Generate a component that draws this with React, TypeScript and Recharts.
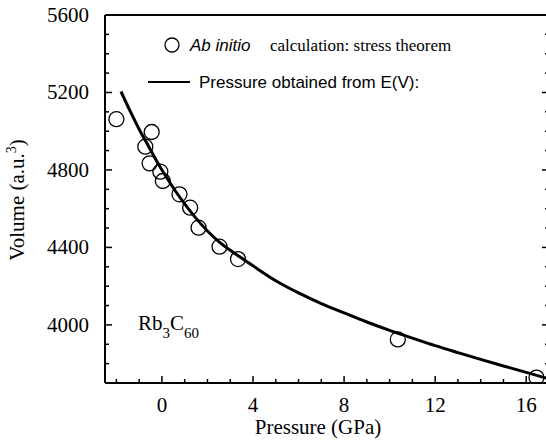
import { ComposedChart, Line, Scatter, XAxis, YAxis } from "recharts";

// solid curve: pressure (GPa) / volume (a.u.^3)
const curveP = [-1.8, -1.4, -1.0, -0.6, -0.2, 0.2, 0.6, 1.0, 1.5, 2.0, 2.5, 3.0, 3.5, 4.0, 5.0, 6.0, 7.0, 8.0, 9.0, 10.0, 11.0, 12.0, 13.0, 14.0, 15.0, 16.0, 16.9];
const curveV = [5205, 5105, 5010, 4925, 4840, 4762, 4690, 4625, 4550, 4485, 4430, 4385, 4345, 4305, 4228, 4165, 4110, 4062, 4015, 3972, 3932, 3893, 3857, 3822, 3788, 3755, 3725];

// open circles: ab initio stress theorem
const calcP = [-2.0, -0.45, -0.73, -0.54, -0.07, 0.04, 0.77, 1.24, 1.61, 2.53, 3.34, 10.36, 16.45];
const calcV = [5062, 4996, 4920, 4834, 4791, 4743, 4674, 4605, 4502, 4404, 4340, 3925, 3728];

const xTicks = [-2, -1, 0, 1, 2, 3, 4, 5, 6, 7, 8, 9, 10, 11, 12, 13, 14, 15, 16, 17];
const xMajor = [0, 4, 8, 12, 16];
const yTicks = [3700, 3800, 3900, 4000, 4100, 4200, 4300, 4400, 4500, 4600, 4700, 4800, 4900, 5000, 5100, 5200, 5300, 5400, 5500, 5600];
const yMajor = [4000, 4400, 4800, 5200, 5600];

const curve = curveP.map((p, i) => ({ p, v: curveV[i] }));
const calc = calcP.map((p, i) => ({ p, v: calcV[i] }));

const SERIF = "'Liberation Serif', 'Times New Roman', serif";
const SANS = "'Liberation Sans', Arial, sans-serif";

const BottomTick = ({ x, y, payload }: any) => {
  const major = xMajor.includes(payload.value);
  return (
    <g>
      <line x1={x} x2={x} y1={y} y2={y - (major ? 7 : 4)} stroke="#000" strokeWidth={1.5} />
      {major && (
        <text x={x} y={y + 29} textAnchor="middle" fontFamily={SERIF} fontSize={21} fill="#000">
          {payload.value}
        </text>
      )}
    </g>
  );
};

const TopTick = ({ x, y, payload }: any) => {
  const major = xMajor.includes(payload.value);
  return <line x1={x} x2={x} y1={y} y2={y + (major ? 7 : 4)} stroke="#000" strokeWidth={1.5} />;
};

const LeftTick = ({ x, y, payload }: any) => {
  const major = yMajor.includes(payload.value);
  return (
    <g>
      <line x1={x} x2={x + (major ? 7 : 4)} y1={y} y2={y} stroke="#000" strokeWidth={1.5} />
      {major && (
        <text x={x - 16} y={y + 7} textAnchor="end" fontFamily={SERIF} fontSize={21} fill="#000">
          {payload.value}
        </text>
      )}
    </g>
  );
};

const RightTick = ({ x, y, payload }: any) => {
  const major = yMajor.includes(payload.value);
  return <line x1={x} x2={x - (major ? 7 : 4)} y1={y} y2={y} stroke="#000" strokeWidth={1.5} />;
};

const Circle = ({ cx, cy }: any) => (
  <circle cx={cx} cy={cy} r={7.5} fill="none" stroke="#000" strokeWidth={1.3} />
);

export default function App() {
  const axisLine = { stroke: "#000", strokeWidth: 2 };
  return (
    <div style={{ position: "absolute", left: 0, top: 0, width: 546, height: 442, overflow: "hidden", background: "#fff" }}>
      <ComposedChart width={560} height={442} margin={{ top: 14, right: 0, bottom: 0, left: 0 }}>
        <XAxis
          xAxisId="b"
          dataKey="p"
          type="number"
          domain={[-2.5, 17]}
          ticks={xTicks}
          interval={0}
          height={59}
          tickSize={0}
          tickMargin={0}
          axisLine={axisLine}
          tickLine={false}
          tick={BottomTick}
          allowDataOverflow
        />
        <XAxis
          xAxisId="t"
          orientation="top"
          type="number"
          domain={[-2.5, 17]}
          ticks={xTicks}
          interval={0}
          height={1}
          tickSize={0}
          tickMargin={0}
          axisLine={axisLine}
          tickLine={false}
          tick={TopTick}
          allowDataOverflow
        />
        <YAxis
          yAxisId="l"
          type="number"
          domain={[3700, 5600]}
          ticks={yTicks}
          interval={0}
          width={105}
          tickSize={0}
          tickMargin={0}
          axisLine={axisLine}
          tickLine={false}
          tick={LeftTick}
          allowDataOverflow
        />
        <YAxis
          yAxisId="r"
          orientation="right"
          type="number"
          domain={[3700, 5600]}
          ticks={yTicks}
          interval={0}
          width={11}
          tickSize={0}
          tickMargin={0}
          axisLine={axisLine}
          tickLine={false}
          tick={RightTick}
          allowDataOverflow
        />
        <Line
          xAxisId="b"
          yAxisId="l"
          data={curve}
          dataKey="v"
          type="monotone"
          stroke="#000"
          strokeWidth={3}
          dot={false}
          isAnimationActive={false}
        />
        <Scatter
          xAxisId="b"
          yAxisId="l"
          data={calc}
          dataKey="v"
          shape={Circle}
          isAnimationActive={false}
        />
      </ComposedChart>

      <svg width={546} height={442} style={{ position: "absolute", left: 0, top: 0, pointerEvents: "none" }}>
        {/* legend */}
        <circle cx={172} cy={45} r={7} fill="none" stroke="#000" strokeWidth={1.3} />
        <text x={190} y={51} fontFamily={SANS} fontStyle="italic" fontSize={17} fill="#000">Ab initio</text>
        <text x={270} y={51} fontFamily={SERIF} fontSize={17} fill="#000">calculation: stress theorem</text>
        <line x1={148} x2={190} y1={82} y2={82} stroke="#000" strokeWidth={2} />
        <text x={199} y={88} fontFamily={SANS} fontSize={17} fill="#000">Pressure obtained from E(V):</text>

        {/* compound label */}
        <text x={138} y={330} fontFamily={SERIF} fontSize={21} fill="#000">
          Rb
          <tspan fontSize={15} dy={8}>3</tspan>
          <tspan dy={-8}>C</tspan>
          <tspan fontSize={15} dy={8}>60</tspan>
        </text>

        {/* axis titles */}
        <text x={318} y={434} textAnchor="middle" fontFamily={SERIF} fontSize={21} fill="#000">Pressure (GPa)</text>
        <text x={24} y={200} textAnchor="middle" transform="rotate(-90 24 200)" fontFamily={SERIF} fontSize={21} fill="#000">
          Volume (a.u.
          <tspan fontSize={14} dy={-8}>3</tspan>
          <tspan dy={8}>)</tspan>
        </text>
      </svg>
    </div>
  );
}
